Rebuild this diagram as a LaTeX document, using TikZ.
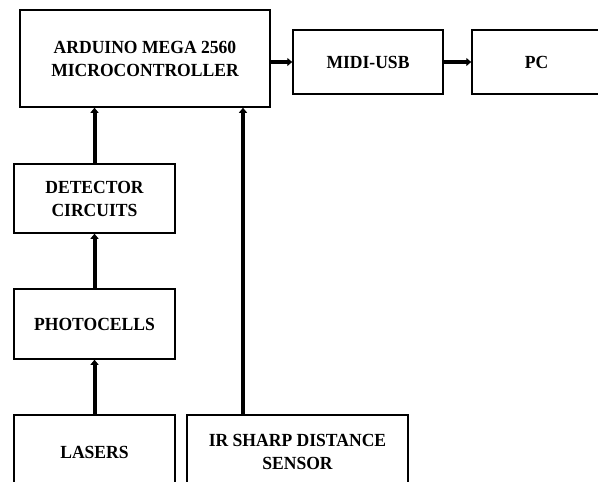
\documentclass[tikz,border=0pt]{standalone}
\usepackage{fontspec}
\setmainfont[FakeStretch = 0.95]{Liberation Serif}
\usepackage{tikz}
\usetikzlibrary{arrows.meta}
\usetikzlibrary{positioning}
\tikzset{box/.style = {draw, line width = 1.5pt, align = center, inner sep = 0,
    font = \bfseries\fontsize{18.5}{23}\selectfont}}
\tikzset{link/.style = {line width = 4pt, -{Triangle[length = 5pt, width = 8pt]}}}

\begin{document}
\begin{tikzpicture}[x=1pt, y=-1pt]
      \useasboundingbox (0, 0) rectangle (598, 482);
      % top row
      \node [box, minimum width = 250, minimum height = 97] (arduino) at (145, 58.5)
        {ARDUINO MEGA 2560\\MICROCONTROLLER};
      \node [box, minimum width = 150, minimum height = 64] (midi) at (368, 62) {MIDI-USB};
      \node [box, minimum width = 129, minimum height = 64] (pc) at (536.5, 62) {PC};
      % left column
      \node [box, minimum width = 161, minimum height = 69] (detector) at (94.5, 198.5)
        {DETECTOR\\CIRCUITS};
      \node [box, minimum width = 161, minimum height = 70] (photocells) at (94.5, 324) {PHOTOCELLS};
      \node [box, minimum width = 161, minimum height = 74] (lasers) at (94.5, 452) {LASERS};
      \node [box, minimum width = 221, minimum height = 74] (ir) at (297.5, 452)
        {IR SHARP DISTANCE\\SENSOR};

      \draw [link] (arduino.east |- midi) -- (midi.west);
      \draw [link] (midi) -- (pc);
      \draw [link] (detector.north) -- (detector.north |- arduino.south);
      \draw [link] (photocells.north) -- (detector.south);
      \draw [link] (lasers.north) -- (photocells.south);
      \draw [link] ([xshift=-54.5pt]ir.north) -- ([xshift=-54.5pt]ir.north |- arduino.south);

    \end{tikzpicture}
\end{document}
